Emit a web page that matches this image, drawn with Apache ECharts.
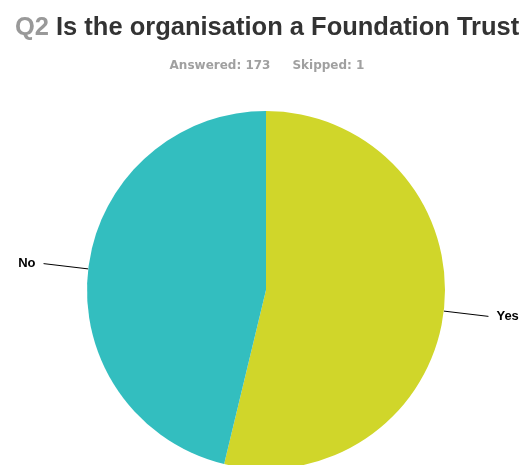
<!DOCTYPE html>
<html>
<head>
<meta charset="utf-8">
<script src="https://cdn.jsdelivr.net/npm/echarts@6/dist/echarts.min.js"></script>
<style>
  html, body { margin: 0; padding: 0; background: #fff; }
  #chart { width: 523px; height: 465px; }
</style>
</head>
<body>
<div id="chart"></div>
<script>
// Answer categories and response counts
const categories = ['Yes', 'No'];
const counts = [93, 80];
const colors = ['#D0D62A', '#33BEBF'];
const answered = 173;
const skipped = 1;

const chart = echarts.init(document.getElementById('chart'), null, { renderer: 'canvas' });

const sans = 'Liberation Sans, Arial, Helvetica, sans-serif';

chart.setOption({
  animation: false,
  backgroundColor: '#ffffff',
  title: [
    {
      text: '{q|Q2} {t|Is the organisation a Foundation Trust}',
      left: 10,
      top: 10,
      textStyle: {
        rich: {
          q: { fontFamily: sans, fontSize: 25.5, fontWeight: 'bold', color: '#999999' },
          t: { fontFamily: sans, fontSize: 25.5, fontWeight: 'bold', color: '#333333', padding: [0, 0, 0, 2] }
        }
      }
    },
    {
      text: '{a|Answered: ' + answered + '}{b|Skipped: ' + skipped + '}',
      left: 262,
      textAlign: 'center',
      top: 55,
      textStyle: {
        rich: {
          a: { fontFamily: 'DejaVu Sans, sans-serif', fontSize: 12, fontWeight: 'bold', color: '#a0a0a0' },
          b: { fontFamily: 'DejaVu Sans, sans-serif', fontSize: 12, fontWeight: 'bold', color: '#a0a0a0', padding: [0, 0, 0, 22] }
        }
      }
    }
  ],
  series: [{
    type: 'pie',
    center: [266, 290],
    radius: 179,
    startAngle: 90,
    clockwise: true,
    avoidLabelOverlap: false,
    data: categories.map((c, i) => ({ name: c, value: counts[i], itemStyle: { color: colors[i] } })),
    label: {
      show: true,
      position: 'outside',
      formatter: '{b}',
      fontFamily: sans,
      fontSize: 13,
      fontWeight: 'bold',
      color: '#000000',
      distanceToLabelLine: 8
    },
    labelLine: {
      show: true,
      length: 45,
      length2: 0,
      lineStyle: { color: '#000000', width: 1 }
    },
    emphasis: { disabled: true }
  }]
});
</script>
</body>
</html>
